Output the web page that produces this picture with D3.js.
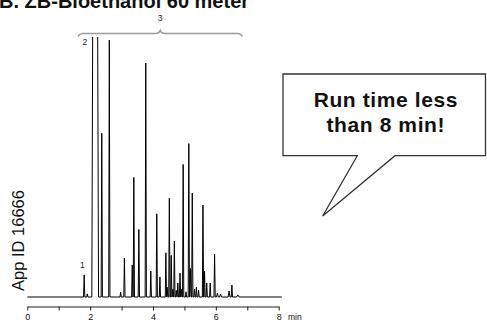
<!DOCTYPE html>
<html>
<head>
<meta charset="utf-8">
<script src="https://cdn.jsdelivr.net/npm/d3@7"></script>
<style>
  html,body{margin:0;padding:0;background:#fff}
  svg{display:block;font-family:"Liberation Sans",Arial,Helvetica,sans-serif}
</style>
</head>
<body>
<svg id="chart" width="487" height="320"></svg>
<script>
// peaks: retention time (min), height (% of full scale), half width at base (min)
const peakTime   = [1.81, 1.91, 2.16, 2.37, 2.61, 2.97, 3.09, 3.34, 3.39, 3.55, 3.77, 3.93, 4.12, 4.22,
                    4.41, 4.45, 4.52, 4.58, 4.63, 4.68, 4.74, 4.79, 4.86, 4.90, 4.96, 5.05, 5.14, 5.19,
                    5.25, 5.32, 5.38, 5.45, 5.59, 5.64, 5.71, 5.82, 5.96, 6.05, 6.15, 6.42, 6.51, 6.70];
const peakHeight = [8.5, 1.2, 400, 63, 98.8, 1.9, 15, 12.3, 46, 26, 90, 10, 32, 7.7,
                    17, 3.8, 38, 16, 3, 21.5, 2.5, 5.4, 9.2, 3, 51, 2, 59, 11,
                    40, 3, 3.8, 2.7, 35.4, 10, 5.4, 5.4, 16.5, 1.5, 1.2, 2.3, 4.6, 0.8];
const peakWidth  = [0.02, 0.02, 0.107, 0.02, 0.02, 0.02, 0.02, 0.02, 0.02, 0.02, 0.02, 0.02, 0.02, 0.02,
                    0.02, 0.02, 0.02, 0.02, 0.02, 0.02, 0.02, 0.02, 0.02, 0.02, 0.02, 0.02, 0.02, 0.02,
                    0.02, 0.02, 0.02, 0.02, 0.02, 0.02, 0.02, 0.02, 0.02, 0.03, 0.03, 0.03, 0.02, 0.04];
const runEnd = 8.1;
const xTicks = [0, 1, 2, 3, 4, 5, 6, 7, 8];
const xTickLabels = {0: '0', 2: '2', 4: '4', 6: '6', 8: '8'};
const peakLabels = [{ text: '1', t: 1.75, v: 11 }, { text: '2', t: 1.83, v: 97 }];
const groupBrace = { text: '3', from: 1.62, to: 6.84 };

const svg = d3.select('#chart');

const x = d3.scaleLinear().domain([0, 8]).range([27.3, 278.7]);
const y = d3.scaleLinear().domain([0, 100]).range([297, 37]);

// title (cut off at the top like the source figure)
svg.append('text').attr('x', -1).attr('y', 7.5)
  .style('font-size', '20px').style('font-weight', 'bold').attr('fill', '#111')
  .text('B. ZB-Bioethanol 60 meter');

// y label
svg.append('text')
  .attr('transform', 'translate(24,291) rotate(-90)')
  .style('font-size', '16.5px').attr('fill', '#111')
  .text('App ID 16666');

// trace
const pts = [[0, 0]];
peakTime.forEach((t, i) => {
  pts.push([t - peakWidth[i], 0], [t, peakHeight[i]], [t + peakWidth[i], 0]);
});
pts.push([runEnd, 0]);

svg.append('defs').append('clipPath').attr('id', 'plot-clip')
  .append('rect').attr('x', 0).attr('y', y(100)).attr('width', 300).attr('height', y(0) - y(100) + 5);

const line = d3.line().x(d => x(d[0])).y(d => y(d[1]));
svg.append('path').datum(pts)
  .attr('clip-path', 'url(#plot-clip)')
  .attr('d', line)
  .attr('fill', 'none').attr('stroke', '#000').attr('stroke-width', 1)
  .attr('stroke-linejoin', 'miter');

// x axis
const axisG = svg.append('g').attr('transform', 'translate(0,306.5)');
const xAxis = d3.axisBottom(x).tickValues(xTicks).tickSize(4).tickSizeOuter(0)
  .tickFormat(d => xTickLabels[d] || '');
axisG.call(xAxis);
axisG.select('.domain').attr('stroke', '#222');
axisG.selectAll('.tick line').attr('stroke', '#222');
axisG.selectAll('.tick text').attr('y', 7.5).attr('dy', '0.71em')
  .style('font-size', '9px').style('font-family', '"Liberation Sans",Arial,sans-serif').attr('fill', '#111');
svg.append('text').attr('x', 288).attr('y', 320)
  .style('font-size', '8.5px').attr('fill', '#111').text('min');

// peak labels
peakLabels.forEach(p => {
  svg.append('text').attr('x', x(p.t)).attr('y', y(p.v)).attr('text-anchor', 'middle')
    .style('font-size', '8.5px').attr('fill', '#222').text(p.text);
});

// brace over peak group 3
const bx0 = x(groupBrace.from), bx1 = x(groupBrace.to), bm = (bx0 + bx1) / 2;
const by = 33.5;
svg.append('path')
  .attr('d', `M${bx0},${by + 3} Q${bx0 + 1},${by} ${bx0 + 5},${by} L${bm - 5},${by} Q${bm - 1},${by} ${bm},${by - 3}`
    + ` Q${bm + 1},${by} ${bm + 5},${by} L${bx1 - 5},${by} Q${bx1 - 1},${by} ${bx1},${by + 3}`)
  .attr('fill', 'none').attr('stroke', '#9c9c9c').attr('stroke-width', 1.5);
svg.append('text').attr('x', bm).attr('y', 21).attr('text-anchor', 'middle')
  .style('font-size', '8.5px').attr('fill', '#222').text(groupBrace.text);

// callout
svg.append('path')
  .attr('d', 'M283,74 H485.5 V155.7 H395 L322.7,216 L357.3,155.7 H283 Z')
  .attr('fill', '#fff').attr('stroke', '#333').attr('stroke-width', 1.3);
const call = svg.append('text').attr('text-anchor', 'middle')
  .style('font-size', '21px').style('font-weight', 'bold').style('letter-spacing', '0.6px').attr('fill', '#111');
call.append('tspan').attr('x', 385.8).attr('y', 106.5).text('Run time less');
call.append('tspan').attr('x', 385.8).attr('y', 131.5).text('than 8 min!');
</script>
</body>
</html>
